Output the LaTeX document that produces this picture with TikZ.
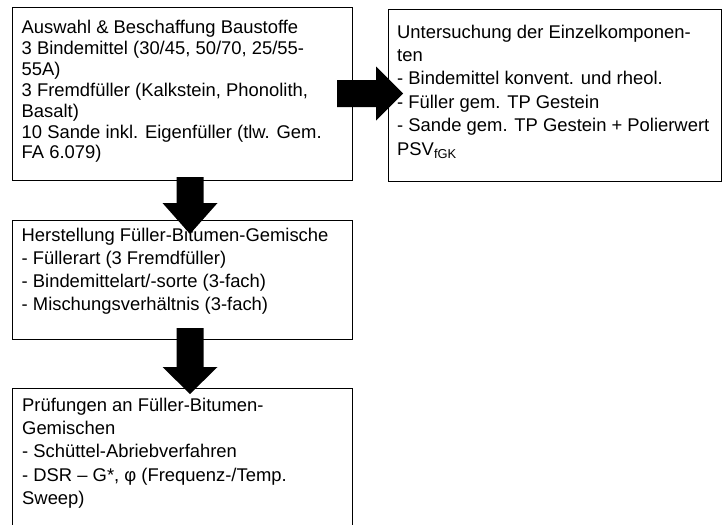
\documentclass[tikz,border=0pt]{standalone}
\usepackage{fontspec}
\setmainfont{Liberation Sans}
\usetikzlibrary{calc}
\newcommand{\boxtext}[2]{\parbox[t]{330pt}{\fontsize{18.4}{#1}\selectfont\raggedright #2}}
\begin{document}
\begin{tikzpicture}[x=1pt,y=-1pt,
  box/.style={draw=black,line width=1.1pt,fill=white,inner sep=0pt,anchor=north west},
  txt/.style={inner sep=0pt,anchor=base west},
  blockarrow/.style={fill=black,draw=none}]
\useasboundingbox[fill=white] (0,0) rectangle (726,525);
% boxes
\node[box,minimum width=340pt,minimum height=173pt] (b1) at (12,7) {};
\node[box,minimum width=333pt,minimum height=172pt] (b2) at (388,9) {};
\node[box,minimum width=340pt,minimum height=119pt] (b3) at (12,220) {};
\node[box,minimum width=340pt,minimum height=150pt] (b4) at (12,388) {};
% texts
\node[txt] (t1) at (21.5,33.5) {\boxtext{20.9pt}{Auswahl \& Beschaffung Baustoffe\\
3 Bindemittel (30/45, 50/70, 25/55-\\
55A)\\
3 Fremdfüller (Kalkstein, Phonolith,\\
Basalt)\\
10 Sande inkl. Eigenfüller (tlw. Gem.\\
FA 6.079)}};
\node[txt] (t2) at (397,38) {\boxtext{23.4pt}{Untersuchung der Einzelkomponen-\\
ten\\
- Bindemittel konvent. und rheol.\\
- Füller gem. TP Gestein\\
- Sande gem. TP Gestein + Polierwert\\
PSV\textsubscript{fGK}}};
\node[txt] (t3) at (21.5,241) {\boxtext{23.0pt}{Herstellung Füller-Bitumen-Gemische\\
- Füllerart (3 Fremdfüller)\\
- Bindemittelart/-sorte (3-fach)\\
- Mischungsverhältnis (3-fach)}};
\node[txt] (t4) at (22,411.5) {\boxtext{23.2pt}{Prüfungen an Füller-Bitumen-\\
Gemischen\\
- Schüttel-Abriebverfahren\\
- DSR – G*, φ (Frequenz-/Temp.\\
Sweep)}};
% block arrows
\coordinate (a1) at (190,177);
\coordinate (a1tip) at (190,234);
\fill[blockarrow] ($(a1)+(-13.5,0)$) -- ($(a1)+(13.5,0)$) -- (203.5,203) -- (217.5,203)
  -- (a1tip) -- (162.5,203) -- (176.5,203) -- cycle;
\coordinate (a2) at (190,328);
\coordinate (a2tip) at (190,394);
\fill[blockarrow] ($(a2)+(-13.5,0)$) -- ($(a2)+(13.5,0)$) -- (203.5,367) -- (217.5,367)
  -- (a2tip) -- (162.5,367) -- (176.5,367) -- cycle;
\coordinate (a3) at (337,93.5);
\coordinate (a3tip) at (403,93.5);
\fill[blockarrow] ($(a3)+(0,-13.5)$) -- (376,80) -- (376,66.5) -- (a3tip)
  -- (376,120.5) -- (376,107) -- ($(a3)+(0,13.5)$) -- cycle;
\end{tikzpicture}
\end{document}
